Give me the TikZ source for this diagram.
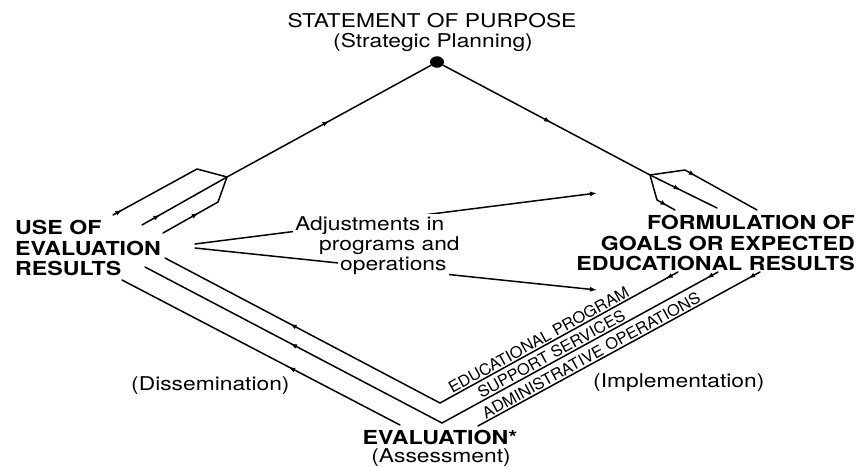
\documentclass[tikz,border=0pt]{standalone}
\usepackage{fontspec}
\setmainfont{TeX Gyre Heros}[FakeStretch=1.2]
\newfontfamily\labfont{TeX Gyre Heros}[FakeStretch=1.05]
\usetikzlibrary{arrows.meta,decorations.markings,shapes.geometric}
\begin{document}
\begin{tikzpicture}[x=1pt,y=-1pt,
  flow/.style={line width=1.5pt, line cap=round, line join=round},
  arr/.style={postaction={decorate,decoration={markings,mark=at position #1 with {\arrow{Latex[length=6.5pt,width=5pt]}}}}},
  big/.style={font=\fontsize{19.3}{20.5}\selectfont\bfseries, inner sep=0pt},
  reg/.style={font=\fontsize{19}{21}\selectfont, inner sep=0pt},
  adj/.style={font=\fontsize{19}{21}\selectfont, inner sep=2pt, fill=white, anchor=base west},
  lab/.style={font=\labfont\fontsize{15.6}{16}\selectfont, inner sep=1.2pt, sloped, above}
]
\useasboundingbox (0,0) rectangle (859,466);

% text nodes
\node[reg, anchor=base] (stmt) at (432,27) {STATEMENT OF PURPOSE};
\node[reg, anchor=base] (plan) at (433,47) {(Strategic Planning)};
\node[ellipse, fill, inner sep=0pt, minimum width=14pt, minimum height=11.5pt] (top) at (437,62) {};
\node[big, anchor=north west, align=left] (use) at (15,220) {USE OF\\EVALUATION\\RESULTS};
\node[big, anchor=north east, align=right] (form) at (855,215) {FORMULATION OF\\GOALS OR EXPECTED\\EDUCATIONAL RESULTS};
\node[big, anchor=base] (eval) at (440,444.5) {EVALUATION*};
\node[reg, anchor=base] (assess) at (441,462) {(Assessment)};
\node[reg, anchor=base west] (dissem) at (131,390) {(Dissemination)};
\node[reg, anchor=base west] (impl) at (593,387) {(Implementation)};

% coordinates
\coordinate (JL) at (227,177);
\coordinate (JR) at (650,175);
\coordinate (LU1) at (113,215);
\coordinate (LU2) at (197,169);
\coordinate (LM) at (142,225);
\coordinate (LL1) at (163,233);
\coordinate (LL2) at (218,202);
\coordinate (RU1) at (685,170);
\coordinate (RU2) at (757,210);
\coordinate (RM) at (717,208);
\coordinate (RL1) at (657,200);
\coordinate (RL2) at (675,210);
\coordinate (T1) at (678,272);
\coordinate (T2) at (718,272);
\coordinate (T3) at (760,272);
\coordinate (V1) at (440,403);
\coordinate (V2) at (442,423);
\coordinate (S3) at (478,426);
\coordinate (D1) at (165,258);
\coordinate (D2) at (145,267);
\coordinate (D3) at (122,280);
\coordinate (E3) at (400,425);
\coordinate (A1s) at (195,244);
\coordinate (A1e) at (597,193);
\coordinate (A2s) at (195,248);
\coordinate (A2e) at (597,290);

% top lines
\draw[flow, arr=0.5] (JL) -- (top);
\draw[flow, arr=0.52] (top) -- (JR);

% left fork
\draw[flow, arr=0.08] (LU1) -- (LU2) -- (JL);
\draw[flow, arr=0.21] (LM) -- (JL);
\draw[flow, arr=0.45] (LL1) -- (LL2) -- (JL);

% right fork
\draw[flow, arr=0.4] (JR) -- (RU1) -- (RU2);
\draw[flow, arr=0.45] (JR) -- (RM);
\draw[flow, arr=0.8] (JR) -- (RL1) -- (RL2);

% implementation lines
\draw[flow, arr=0.05] (T1) -- node[lab, pos=0.57] {EDUCATIONAL PROGRAM} (V1);
\draw[flow, arr=0.04] (T2) -- node[lab, pos=0.59] {SUPPORT SERVICES} (V2);
\draw[flow, arr=0.04] (T3) -- node[lab, pos=0.585] {ADMINISTRATIVE OPERATIONS} (S3);

% dissemination lines
\draw[flow, arr=0.545] (V1) -- (D1);
\draw[flow, arr=0.51] (V2) -- (D2);
\draw[flow, arr=0.40] (E3) -- (D3);

% adjustments
\draw[flow, -{Latex[length=7pt,width=5pt]}] (A1s) -- (A1e);
\draw[flow, -{Latex[length=7pt,width=5pt]}] (A2s) -- (A2e);
\node[adj] (adj1) at (293,230) {Adjustments in};
\node[adj] (adj2) at (317,250) {programs and};
\node[adj] (adj3) at (338,270) {operations};
\end{tikzpicture}
\end{document}
